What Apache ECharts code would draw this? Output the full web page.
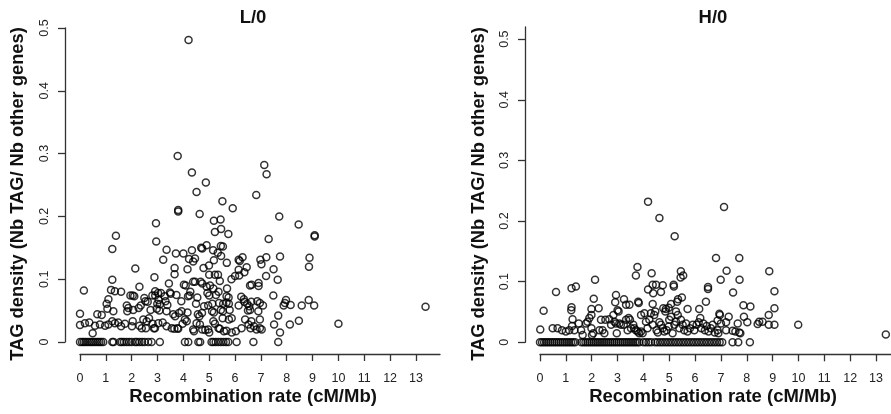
<!DOCTYPE html>
<html>
<head>
<meta charset="utf-8">
<script src="https://cdn.jsdelivr.net/npm/echarts@6/dist/echarts.min.js"></script>
<style>
  html, body { margin: 0; padding: 0; background: #fff; }
  #chart { width: 891px; height: 414px; }
</style>
</head>
<body>
<div id="chart"></div>
<script>
// Tick values shared by both panels
const rateTicks = [0, 1, 2, 3, 4, 5, 6, 7, 8, 9, 10, 11, 12, 13];
const densityTicks = [0, 0.1, 0.2, 0.3, 0.4, 0.5];

const panelTitles = ['L/0', 'H/0'];
const xTitle = 'Recombination rate (cM/Mb)';
const yTitle = 'TAG density (Nb TAG/ Nb other genes)';

// L/0 : [recombination rate, TAG density]
const lowPoints = [
  [4.2,0.481],[3.78,0.296],[4.33,0.270],[7.13,0.282],[7.22,0.267],[4.87,0.254],[4.51,0.239],
  [6.82,0.234],[5.51,0.224],[5.91,0.213],[3.8,0.210],[3.8,0.208],[4.63,0.204],[7.71,0.200],
  [2.94,0.189],[8.46,0.187],[5.18,0.193],[5.44,0.195],[5.46,0.180],[5.22,0.175],[5.74,0.172],
  [1.39,0.169],[9.08,0.170],[9.08,0.168],[7.3,0.164],[2.95,0.160],[4.9,0.154],[4.69,0.150],
  [4.73,0.149],[5.45,0.153],[5.53,0.152],[1.25,0.148],[3.35,0.147],[4.33,0.146],[5.15,0.146],
  [5.33,0.142],[4.0,0.141],[3.71,0.141],[4.45,0.133],[4.38,0.128],[4.22,0.132],[5.18,0.130],
  [6.14,0.131],[6.18,0.129],[6.29,0.135],[5.46,0.137],[7.21,0.135],[7.74,0.136],[8.88,0.134],
  [3.22,0.131],[6.98,0.131],[7.02,0.124],[5.68,0.126],[4.99,0.122],[4.78,0.118],[6.45,0.119],
  [8.86,0.120],[7.49,0.116],[2.14,0.117],[4.16,0.116],[6.14,0.115],[6.36,0.111],[3.66,0.118],
  [3.66,0.108],[5.0,0.107],[5.22,0.107],[5.34,0.107],[7.2,0.105],[6.0,0.105],[6.16,0.106],
  [1.25,0.099],[7.65,0.099],[2.88,0.103],[5.86,0.100],[5.41,0.097],[4.02,0.091],[4.09,0.090],
  [4.38,0.096],[4.45,0.096],[4.67,0.096],[4.73,0.093],[5.03,0.090],[3.44,0.093],[6.58,0.090],
  [6.64,0.091],[6.91,0.094],[6.91,0.089],[2.3,0.088],[0.15,0.082],[1.2,0.083],[1.35,0.081],
  [1.59,0.080],[5.69,0.085],[4.9,0.088],[5.16,0.085],[4.27,0.080],[2.91,0.081],[3.02,0.078],
  [3.13,0.078],[3.48,0.079],[3.51,0.077],[5.36,0.080],[6.24,0.072],[4.93,0.078],[5.0,0.074],
  [1.95,0.074],[2.04,0.074],[2.1,0.073],[2.49,0.070],[2.8,0.074],[2.91,0.074],[3.28,0.073],
  [3.73,0.075],[4.18,0.073],[4.24,0.074],[4.54,0.071],[5.26,0.075],[5.67,0.073],[5.75,0.071],
  [6.34,0.068],[3.92,0.065],[1.03,0.061],[1.1,0.068],[1.81,0.058],[1.87,0.054],[2.27,0.054],
  [2.35,0.058],[2.53,0.065],[2.62,0.064],[3.04,0.067],[2.99,0.061],[3.09,0.060],[3.31,0.065],
  [3.38,0.059],[4.49,0.061],[4.8,0.057],[4.96,0.058],[5.12,0.061],[5.38,0.062],[5.54,0.061],
  [5.67,0.063],[5.76,0.061],[6.14,0.058],[6.36,0.064],[6.47,0.061],[6.55,0.057],[6.63,0.064],
  [6.86,0.065],[6.96,0.062],[7.08,0.058],[7.88,0.058],[7.93,0.062],[7.97,0.067],[8.15,0.059],
  [8.58,0.058],[8.85,0.067],[9.06,0.058],[13.37,0.056],[7.48,0.074],[0.67,0.044],[0.84,0.043],
  [0.0,0.045],[1.06,0.053],[1.29,0.049],[1.83,0.049],[2.06,0.051],[2.73,0.051],[2.97,0.053],
  [3.07,0.050],[3.35,0.049],[3.61,0.044],[3.68,0.041],[3.83,0.046],[3.93,0.049],[4.16,0.047],
  [4.56,0.044],[4.62,0.041],[4.72,0.046],[5.11,0.049],[5.18,0.047],[5.45,0.051],[5.53,0.049],
  [5.79,0.051],[6.5,0.050],[6.58,0.051],[6.9,0.049],[7.67,0.042],[8.47,0.034],[6.96,0.036],
  [5.52,0.038],[5.76,0.036],[5.87,0.038],[6.39,0.036],[6.63,0.033],[7.51,0.028],[8.12,0.028],
  [10.0,0.029],[0.0,0.027],[0.19,0.030],[0.36,0.031],[0.58,0.026],[0.77,0.028],[0.97,0.026],
  [1.1,0.028],[1.25,0.033],[1.35,0.030],[1.48,0.031],[1.59,0.025],[1.74,0.029],[2.04,0.033],
  [2.01,0.025],[2.3,0.026],[2.39,0.022],[2.45,0.036],[2.58,0.033],[2.67,0.038],[2.81,0.029],
  [2.86,0.022],[3.03,0.030],[3.2,0.031],[3.35,0.025],[3.55,0.022],[3.65,0.021],[3.77,0.022],
  [4.06,0.036],[4.13,0.033],[3.97,0.029],[4.38,0.020],[4.41,0.017],[4.51,0.030],[4.64,0.028],
  [4.73,0.020],[4.85,0.019],[4.96,0.020],[5.0,0.015],[5.16,0.033],[5.22,0.029],[5.36,0.022],
  [5.41,0.021],[5.57,0.017],[5.67,0.018],[5.87,0.015],[6.03,0.017],[6.25,0.022],[6.52,0.028],
  [6.6,0.022],[6.73,0.025],[6.83,0.020],[6.96,0.022],[7.03,0.020],[7.74,0.015],[0.49,0.014],
  [2.9,0.022],[3.8,0.021],[2.55,0.022],
  [0,0],[0.08,0],[0.15,0],[0.22,0],[0.3,0],[0.38,0],[0.45,0],[0.52,0],[0.6,0],[0.68,0],
  [0.75,0],[0.82,0],[0.9,0],[1.25,0],[1.3,0],[1.55,0],[1.62,0],[1.7,0],[1.8,0],[1.9,0],
  [2.0,0],[2.13,0],[2.2,0],[2.3,0],[2.4,0],[2.5,0],[2.64,0],[2.77,0],[3.09,0],[4.06,0],
  [4.19,0],[4.58,0],[4.65,0],[5.09,0],[5.16,0],[5.25,0],[5.35,0],[5.45,0],[5.55,0],[5.65,0],
  [5.74,0],[6.06,0],[6.71,0],[7.67,0]
];

// H/0 : [recombination rate, TAG density]
const highPoints = [
  [4.18,0.232],[4.62,0.205],[7.12,0.223],[5.21,0.175],[6.81,0.139],[7.71,0.139],[3.77,0.124],
  [3.71,0.110],[4.32,0.114],[5.45,0.117],[5.54,0.110],[5.44,0.107],[7.22,0.118],[8.87,0.117],
  [2.13,0.103],[6.99,0.103],[7.72,0.103],[4.18,0.087],[4.49,0.095],[4.75,0.094],[5.17,0.095],
  [5.18,0.092],[1.22,0.089],[1.39,0.092],[0.62,0.083],[4.36,0.095],[4.38,0.081],[4.68,0.083],
  [9.07,0.084],[7.47,0.082],[6.5,0.091],[6.5,0.088],[2.94,0.078],[2.08,0.072],[3.25,0.071],
  [5.49,0.074],[5.34,0.071],[5.31,0.067],[6.42,0.067],[2.91,0.066],[3.33,0.062],[3.46,0.062],
  [3.8,0.067],[3.82,0.065],[4.36,0.063],[5.07,0.063],[0.14,0.052],[1.22,0.058],[1.21,0.053],
  [1.99,0.055],[2.27,0.056],[3.0,0.053],[3.04,0.051],[4.77,0.056],[4.87,0.055],[4.98,0.057],
  [4.85,0.051],[5.26,0.051],[7.87,0.061],[8.14,0.059],[9.07,0.056],[6.16,0.055],[5.71,0.055],
  [0.01,0.021],[0.49,0.023],[0.68,0.023],[0.85,0.020],[1.0,0.018],[1.13,0.020],[1.26,0.038],
  [1.24,0.027],[1.33,0.020],[1.5,0.031],[1.59,0.020],[1.65,0.012],[1.78,0.031],[1.84,0.034],
  [1.91,0.040],[1.99,0.045],[1.99,0.023],[2.06,0.015],[2.01,0.012],[2.3,0.020],[2.42,0.020],
  [2.36,0.037],[2.53,0.037],[2.49,0.015],[2.68,0.038],[2.75,0.029],[2.84,0.045],[2.88,0.034],
  [2.94,0.031],[2.97,0.015],[3.07,0.031],[3.13,0.029],[3.24,0.029],[3.33,0.037],[3.43,0.040],
  [3.48,0.037],[3.39,0.020],[3.52,0.023],[3.61,0.029],[3.65,0.023],[3.71,0.020],[3.78,0.018],
  [3.84,0.015],[3.91,0.045],[4.04,0.048],[3.91,0.018],[3.97,0.015],[4.1,0.034],[4.16,0.023],
  [4.23,0.037],[4.29,0.048],[4.36,0.029],[4.42,0.045],[4.46,0.051],[4.51,0.020],[4.56,0.016],
  [4.62,0.033],[4.68,0.029],[4.75,0.023],[4.81,0.018],[4.9,0.020],[4.98,0.026],[5.0,0.037],
  [5.07,0.042],[5.13,0.015],[5.2,0.029],[5.26,0.034],[5.33,0.045],[5.39,0.023],[5.45,0.037],
  [5.52,0.029],[5.58,0.020],[5.65,0.031],[5.71,0.018],[5.8,0.023],[5.91,0.029],[5.97,0.020],
  [6.06,0.029],[6.14,0.033],[6.2,0.040],[6.24,0.023],[6.32,0.031],[6.38,0.020],[6.45,0.027],
  [6.52,0.018],[6.61,0.023],[6.68,0.029],[6.76,0.016],[6.87,0.020],[6.9,0.015],[7.0,0.031],
  [6.87,0.036],[6.94,0.047],[6.96,0.045],[7.2,0.033],[7.3,0.042],[7.2,0.020],[7.45,0.019],
  [7.56,0.018],[7.65,0.031],[7.71,0.016],[7.75,0.015],[7.89,0.042],[8.02,0.033],[8.42,0.030],
  [8.48,0.034],[8.61,0.034],[8.85,0.045],[8.85,0.029],[9.07,0.029],[9.99,0.029],[13.38,0.013],
  [0,0],[0.08,0],[0.16,0],[0.24,0],[0.32,0],[0.4,0],[0.48,0],[0.56,0],[0.64,0],[0.72,0],
  [0.8,0],[0.88,0],[0.96,0],[1.04,0],[1.12,0],[1.2,0],[1.28,0],[1.36,0],[1.6,0],[1.68,0],
  [1.76,0],[1.84,0],[1.92,0],[2.0,0],[2.08,0],[2.16,0],[2.24,0],[2.32,0],[2.4,0],[2.48,0],
  [2.56,0],[2.64,0],[2.72,0],[2.8,0],[2.88,0],[2.96,0],[3.04,0],[3.12,0],[3.2,0],[3.28,0],
  [3.36,0],[3.44,0],[3.52,0],[3.6,0],[3.68,0],[3.76,0],[3.84,0],[4.0,0],[4.1,0],[4.2,0],
  [4.3,0],[4.45,0],[4.55,0],[4.65,0],[4.75,0],[4.85,0],[4.95,0],[5.05,0],[5.15,0],[5.25,0],
  [5.35,0],[5.45,0],[5.55,0],[5.65,0],[5.75,0],[5.85,0],[5.95,0],[6.05,0],[6.15,0],[6.25,0],
  [6.35,0],[6.45,0],[6.55,0],[6.65,0],[6.75,0],[6.85,0],[6.95,0],[7.05,0],[7.45,0],[7.67,0],
  [8.12,0]
];

const FONT = '"Liberation Sans", Arial, Helvetica, sans-serif';
const AXIS_COLOR = '#333';

function xAxisFor(gridIndex, max) {
  return {
    type: 'value', gridIndex, min: 0, max,
    position: 'bottom', offset: 12,
    axisLine: { show: true, onZero: false, lineStyle: { color: AXIS_COLOR, width: 1.3 } },
    axisTick: { show: true, length: 7, customValues: rateTicks, lineStyle: { color: AXIS_COLOR, width: 1.3 } },
    axisLabel: { customValues: rateTicks, margin: 18, color: '#222', fontSize: 12.5, fontFamily: FONT },
    splitLine: { show: false }
  };
}

function yAxisFor(gridIndex, max) {
  return {
    type: 'value', gridIndex, min: 0, max,
    position: 'left', offset: 15,
    axisLine: { show: true, onZero: false, lineStyle: { color: AXIS_COLOR, width: 1.3 } },
    axisTick: { show: true, length: 7, customValues: densityTicks, lineStyle: { color: AXIS_COLOR, width: 1.3 } },
    axisLabel: {
      customValues: densityTicks, rotate: 90, margin: 14, color: '#222', fontSize: 12.5, fontFamily: FONT,
      formatter: v => (v === 0 ? '0' : String(Math.round(v * 10) / 10))
    },
    splitLine: { show: false }
  };
}

const circleStyle = { color: 'rgba(0,0,0,0)', borderColor: '#000', borderWidth: 1.5 };

function textEl(text, x, y, size, rotation) {
  return {
    type: 'text', x, y, rotation: rotation || 0,
    style: {
      text, fill: '#111', font: 'bold ' + size + 'px ' + FONT,
      textAlign: 'center', textVerticalAlign: 'middle'
    }
  };
}

const chart = echarts.init(document.getElementById('chart'), null, { renderer: 'canvas' });
chart.setOption({
  animation: false,
  backgroundColor: '#fff',
  grid: [
    { left: 80, top: 28, width: 360, height: 314, containLabel: false },
    { left: 540, top: 27, width: 351, height: 315.3, containLabel: false }
  ],
  xAxis: [xAxisFor(0, 13.93), xAxisFor(1, 13.58)],
  yAxis: [yAxisFor(0, 0.5), yAxisFor(1, 0.52)],
  series: [
    { type: 'scatter', xAxisIndex: 0, yAxisIndex: 0, data: lowPoints, symbol: 'circle', symbolSize: 7, itemStyle: circleStyle, clip: false },
    { type: 'scatter', xAxisIndex: 1, yAxisIndex: 1, data: highPoints, symbol: 'circle', symbolSize: 7, itemStyle: circleStyle, clip: false }
  ],
  graphic: [
    textEl(panelTitles[0], 253, 18, 18.5),
    textEl(panelTitles[1], 713, 18, 18.5),
    textEl(xTitle, 253, 397, 18.5),
    textEl(xTitle, 713, 397, 18.5),
    textEl(yTitle, 18, 194, 18.3, Math.PI / 2),
    textEl(yTitle, 479, 194, 18.3, Math.PI / 2)
  ]
});
</script>
</body>
</html>
